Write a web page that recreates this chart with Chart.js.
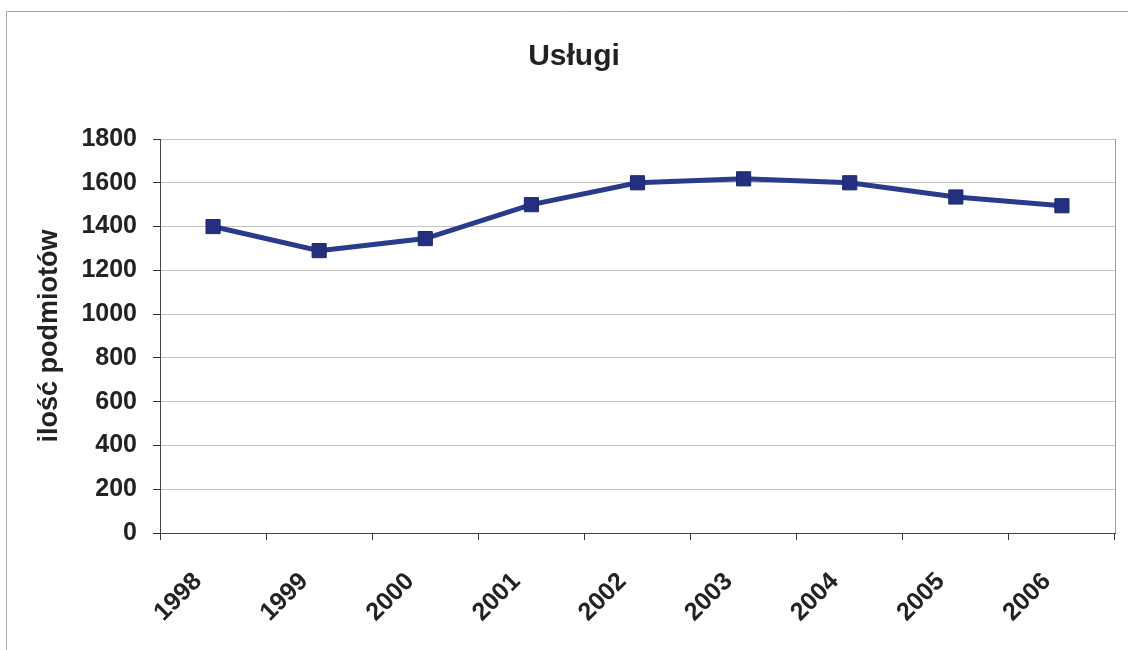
<!DOCTYPE html>
<html>
<head>
<meta charset="utf-8">
<script src="https://cdn.jsdelivr.net/npm/chart.js@4"></script>
<style>
    html, body { margin: 0; padding: 0; background: #fff; }
    #wrap { width: 1128px; height: 650px; }
</style>
</head>
<body>
<div id="wrap"><canvas id="chart" width="1128" height="650"></canvas></div>
<script>
const years = ['1998', '1999', '2000', '2001', '2002', '2003', '2004', '2005', '2006'];
const podmioty = [1400, 1290, 1345, 1500, 1600, 1618, 1600, 1535, 1495];
const yMin = 0;
const yMax = 1800;
const yStep = 200;

const chartTitle = 'Usługi';
const yTitle = 'ilość podmiotów';

const fontFamily = '"Liberation Sans", Arial, sans-serif';
const textColor = '#222';

// ramka (tylko góra i lewa strona widoczne) i prawa krawędź obszaru danych
const frames = {
    id: 'frames',
    beforeDraw: (chart) => {
        const ctx = chart.ctx;
        ctx.save();
        ctx.fillStyle = '#fff';
        ctx.fillRect(0, 0, chart.width, chart.height);
        ctx.strokeStyle = '#a8a8a8';
        ctx.lineWidth = 1;
        ctx.beginPath();
        ctx.moveTo(6.5, chart.height);
        ctx.lineTo(6.5, 11.5);
        ctx.lineTo(chart.width, 11.5);
        ctx.stroke();
        ctx.restore();
    },
    beforeDatasetsDraw: (chart) => {
        const a = chart.chartArea;
        const ctx = chart.ctx;
        ctx.save();
        ctx.strokeStyle = '#a0a0a0';
        ctx.lineWidth = 1;
        ctx.beginPath();
        ctx.moveTo(Math.round(a.right) + 0.5, a.top);
        ctx.lineTo(Math.round(a.right) + 0.5, a.bottom);
        ctx.stroke();
        ctx.restore();
    }
};

new Chart(document.getElementById('chart'), {
    type: 'line',
    data: {
        labels: years,
        datasets: [
            {
                label: chartTitle,
                data: podmioty,
                borderColor: '#2a3a8c',
                backgroundColor: '#22307f',
                borderWidth: 5,
                tension: 0,
                pointStyle: 'rect',
                pointRadius: 10,
                pointBorderWidth: 1,
                pointBorderColor: '#1c2870',
                pointBackgroundColor: '#22307f'
            }
        ]
    },
    options: {
        responsive: false,
        animation: false,
        layout: {
            padding: { left: 33, right: 13, top: 20, bottom: 10 }
        },
        plugins: {
            legend: { display: false },
            tooltip: { enabled: false },
            title: {
                display: true,
                text: chartTitle,
                color: textColor,
                font: { family: fontFamily, size: 30, weight: 'bold' },
                padding: { top: 19, bottom: 64 }
            }
        },
        scales: {
            x: {
                offset: true,
                grid: {
                    offset: true,
                    drawOnChartArea: false,
                    color: '#333',
                    tickLength: 7
                },
                border: { color: '#444', width: 1 },
                ticks: {
                    color: textColor,
                    font: { family: fontFamily, size: 25, weight: 'bold' },
                    maxRotation: 45,
                    minRotation: 45,
                    padding: 27,
                    labelOffset: -15
                },
                afterFit: (scale) => { scale.height = 107; }
            },
            y: {
                min: yMin,
                max: yMax,
                ticks: {
                    stepSize: yStep,
                    color: textColor,
                    font: { family: fontFamily, size: 25, weight: 'bold' },
                    padding: 16,
                    callback: (value) => String(value)
                },
                grid: {
                    color: '#c4c4c4',
                    tickColor: '#333',
                    tickLength: 7
                },
                border: { color: '#444', width: 1 },
                title: {
                    display: true,
                    text: yTitle,
                    color: textColor,
                    font: { family: fontFamily, size: 27, weight: 'bold' },
                    padding: { top: 0, bottom: 4 }
                },
                afterFit: (scale) => { scale.width = 127; }
            }
        }
    },
    plugins: [frames]
});
</script>
</body>
</html>
